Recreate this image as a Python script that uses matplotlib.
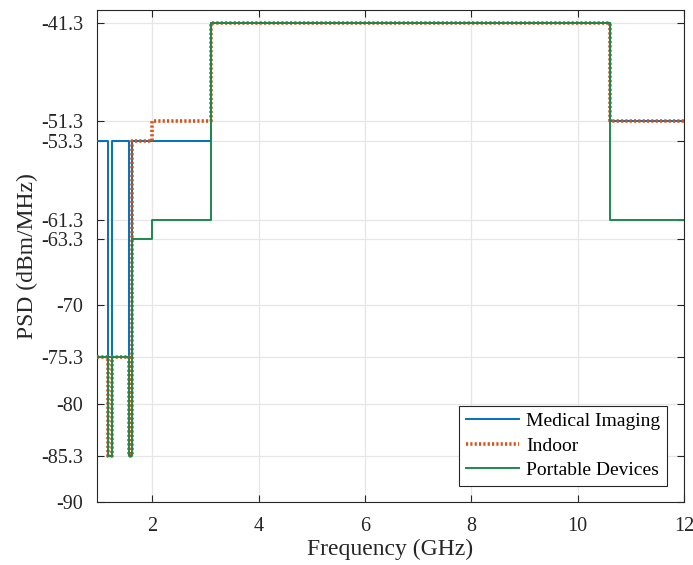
import numpy as np
import matplotlib
matplotlib.use("Agg")
import matplotlib.pyplot as plt

plt.rcParams['font.family'] = ['Liberation Serif', 'DejaVu Serif']
plt.rcParams['mathtext.fontset'] = 'stix'

# band edges (GHz) and mask levels (dBm/MHz)
freq_edges = [0.96, 1.164, 1.24, 1.559, 1.61, 1.99, 3.1, 10.6, 12.0]
medical = [-53.3, -75.3, -53.3, -75.3, -53.3, -53.3, -41.3, -51.3]
indoor = [-75.3, -85.3, -75.3, -85.3, -53.3, -51.3, -41.3, -51.3]
portable = [-75.3, -85.3, -75.3, -85.3, -63.3, -61.3, -41.3, -61.3]

ytick_vals = [-90, -85.3, -80, -75.3, -70, -63.3, -61.3, -53.3, -51.3, -41.3]
ytick_labels = ['-90', '-85.3', '-80', '-75.3', '-70', '-63.3', '-61.3', '-53.3', '-51.3', '-41.3']
xtick_vals = [2, 4, 6, 8, 10, 12]

fig = plt.figure(figsize=(6.93, 5.65), dpi=100)
ax = fig.add_axes([0.14, 0.1115, 0.847, 0.8705])

def steps(levels):
    return list(levels) + [levels[-1]]

ax.step(freq_edges, steps(medical), where='post', color='#0072BD', lw=1.4,
        label='Medical Imaging', zorder=3)
ax.step(freq_edges, steps(indoor), where='post', color='#D95319', lw=2.6,
        linestyle=(0, (0.6, 0.6)), label='Indoor', zorder=4)
ax.step(freq_edges, steps(portable), where='post', color='#1B8A4B', lw=1.4,
        label='Portable Devices', zorder=5)

ax.set_xlim(0.96, 12)
ax.set_ylim(-90, -40)
ax.set_xticks(xtick_vals)
ax.set_yticks(ytick_vals)
ax.set_yticklabels(ytick_labels)
ax.tick_params(direction='in', top=True, right=True, labelsize=14.5,
               length=5, width=0.8, color='#262626', labelcolor='#262626')
ax.tick_params(axis='x', pad=11)
ax.tick_params(axis='y', pad=10)
ax.grid(True, color='#e6e6e6', lw=0.9)
ax.set_axisbelow(True)
for s in ax.spines.values():
    s.set_color('#262626')
    s.set_linewidth(0.8)

ax.set_xlabel('Frequency (GHz)', fontsize=17, color='#262626', labelpad=2)
ax.set_ylabel('PSD (dBm/MHz)', fontsize=17, color='#262626', labelpad=2)

leg = ax.legend(loc='lower right', bbox_to_anchor=(0.971, 0.0325), borderaxespad=0,
                fontsize=14, fancybox=False, framealpha=1,
                edgecolor='#262626', handlelength=2.75, borderpad=0.35,
                labelspacing=0.36, handletextpad=0.35)
leg.get_frame().set_linewidth(0.8)

fig.savefig('out.png', dpi=100)
